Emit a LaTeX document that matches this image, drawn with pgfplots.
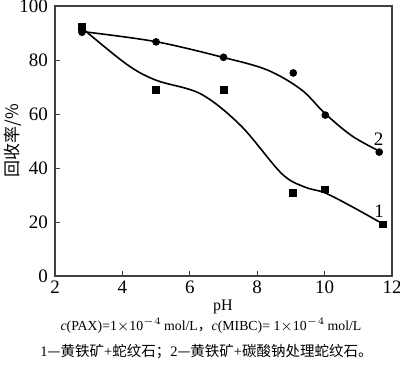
\documentclass[border=0pt]{standalone}
\usepackage{pgfplots}
\pgfplotsset{compat=1.18}
\usepackage{fontspec}
\setmainfont{Liberation Serif}
\newfontfamily\cjk{Noto Sans CJK SC}
\begin{document}
\begin{tikzpicture}
\useasboundingbox (-27.5pt,-44pt) rectangle (172.5pt,138pt);
\begin{axis}[
  scale only axis,
  width=168.5pt, height=135pt,
  xmin=2, xmax=12, ymin=0, ymax=100,
  xtick={2,4,...,12}, ytick={0,20,...,100},
  tick align=inside,
  tick pos=left,
  major tick length=2.5pt,
  axis line style={draw=black!75, line width=0.6pt},
  tick style={draw=black!75, line width=0.5pt},
  tick label style={font=\fontsize{9.5}{10}\selectfont},
  /pgf/number format/assume math mode=true,
  xticklabel style={yshift=1.2pt},
  yticklabel style={xshift=0pt},
  ylabel={\cjk 回收率/\%},
  ylabel style={font=\fontsize{8.5}{10}\selectfont, at={(axis description cs:-0.125,0.5)}, anchor=center},
  clip=false,
]
% series 1 points (squares)
\addplot[only marks, mark=square*, mark size=1.7pt, black] coordinates {
 (2.8,92.4) (5.0,68.8) (7.0,69.0) (9.07,30.7) (10.0,32.1) (11.73,19.1)};
% series 2 points (circles)
\addplot[only marks, mark=*, mark size=1.7pt, black] coordinates {
 (2.8,90.3) (5.0,86.7) (7.0,81.0) (9.07,75.2) (10.02,59.6) (11.62,45.9)};
% fitted curve 1
\addplot[smooth, tension=0.55, black, line width=0.8pt, mark=none] coordinates {
 (2.9,90.8) (4.14,78.3) (5.0,72.5) (6.33,67.4) (7.52,55.6) (8.72,38.0) (9.4,33.0) (10.01,30.8) (10.81,25.7) (11.7,19.5)};
% fitted curve 2
\addplot[smooth, tension=0.55, black, line width=0.8pt, mark=none] coordinates {
 (2.9,90.4) (4.99,86.8) (6.98,81.0) (8.3,76.3) (9.31,69.0) (10.01,60.2) (10.81,51.9) (11.6,46.4)};
\node[font=\fontsize{9.5}{10}\selectfont] at (axis cs:11.62,24) {1};
\node[font=\fontsize{9.5}{10}\selectfont] at (axis cs:11.6,50.5) {2};
\end{axis}
\node[font=\fontsize{8}{10}\selectfont, inner sep=0pt] at (84pt,-15.5pt) {pH};
\node[font=\fontsize{6.9}{9}\selectfont, inner sep=0pt] at (78pt,-25pt) {\textit{c}(PAX)=1$\times$10$^{-4}$\,mol/L{\cjk ，}\textit{c}(MIBC)= 1$\times$10$^{-4}$\,mol/L};
\node[font=\fontsize{7.25}{9}\selectfont, inner sep=0pt] at (75.75pt,-38pt) {1{\cjk —黄铁矿}+{\cjk 蛇纹石；}2{\cjk —黄铁矿}+{\cjk 碳酸钠处理蛇纹石。}};
\end{tikzpicture}
\end{document}
